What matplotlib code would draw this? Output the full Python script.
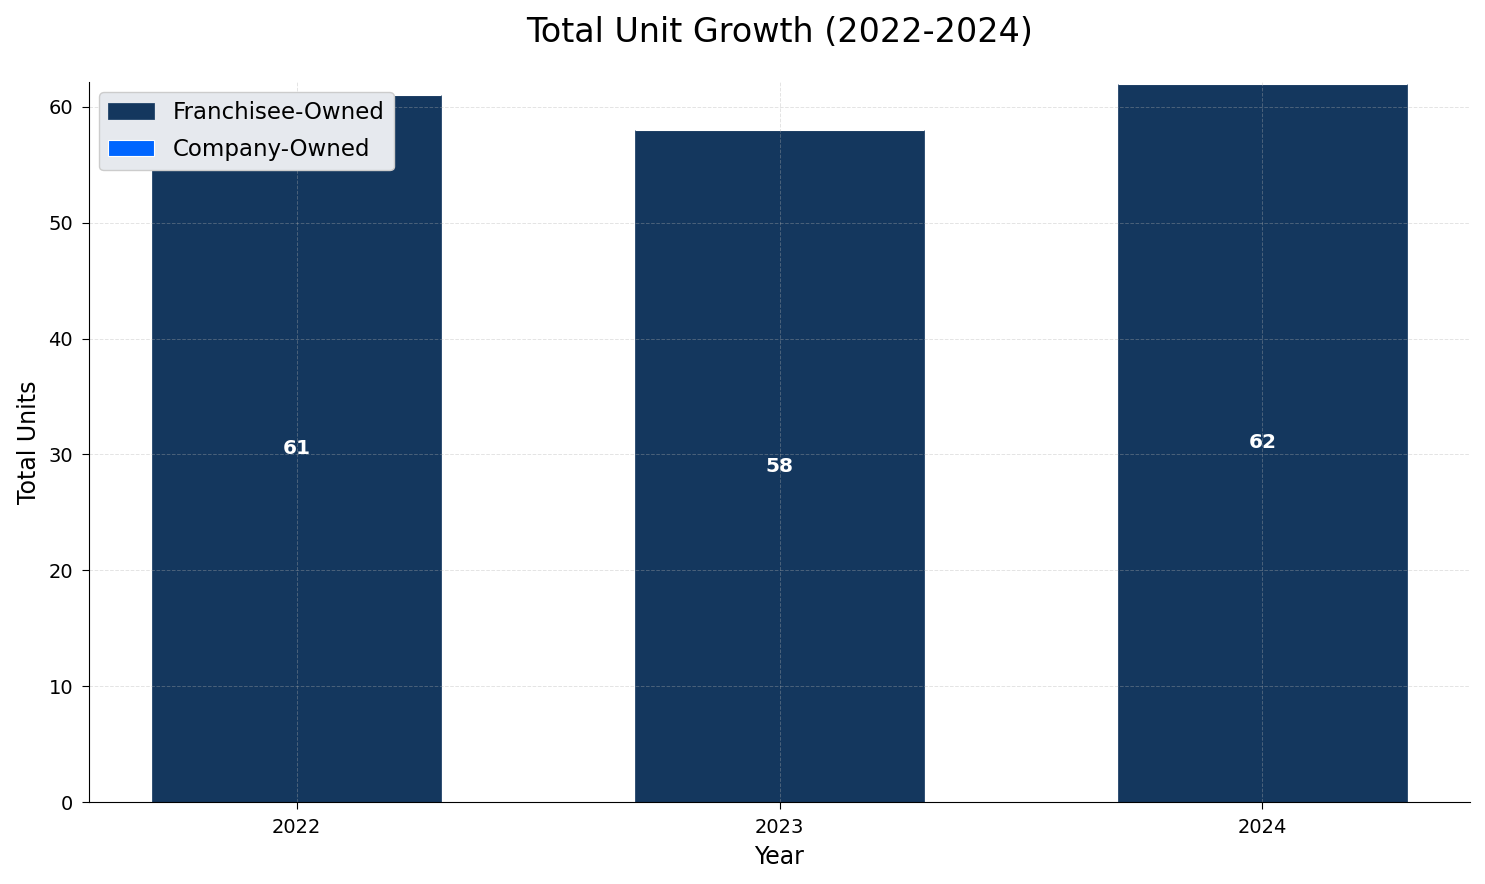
import numpy as np
import matplotlib
matplotlib.use('Agg')
import matplotlib.pyplot as plt

years = ['2022', '2023', '2024']
franchisee = [61, 58, 62]
company = [0, 0, 0]

navy = '#14375E'
bright = '#0066FF'

fig = plt.figure(figsize=(14.85, 8.84), dpi=100)
ax = fig.add_axes([89 / 1485, 1 - 802 / 884, (1470 - 89) / 1485, (802 - 82) / 884])

x = np.arange(len(years))
ax.bar(x, franchisee, 0.6, color=navy, edgecolor='#23456b', linewidth=0.6,
       label='Franchisee-Owned')
ax.bar(x, company, 0.6, bottom=franchisee, color=bright, edgecolor='white',
       linewidth=0.8, label='Company-Owned')

totals = [f + c for f, c in zip(franchisee, company)]
for xi, f in zip(x, franchisee):
    ax.text(xi, f / 2, str(f), ha='center', va='center', color='white',
            fontsize=14.5, fontweight='bold')

ax.set_ylim(0, max(totals) + 0.15)
ax.set_xticks(x)
ax.set_xticklabels(years)
ax.tick_params(axis='both', labelsize=14, length=5, pad=6.5)
ax.set_xlabel('Year', fontsize=17, labelpad=6)
ax.set_ylabel('Total Units', fontsize=17, labelpad=5)
ax.set_title('Total Unit Growth (2022-2024)', fontsize=24, pad=29)

ax.grid(True, linestyle='--', color='#b0b0b0', alpha=0.35, linewidth=0.7)
ax.spines['top'].set_visible(False)
ax.spines['right'].set_visible(False)

leg = ax.legend(loc='upper left', fontsize=16.5, facecolor='#E6E9EE',
                edgecolor='#cccccc', framealpha=1.0, labelspacing=0.6,
                borderaxespad=0.45)

fig.savefig('out.png', dpi=100)
